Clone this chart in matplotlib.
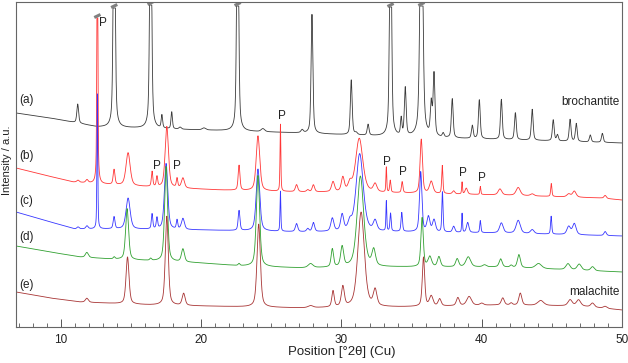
import numpy as np
import matplotlib
matplotlib.use("Agg")
import matplotlib.pyplot as plt
from matplotlib.ticker import MultipleLocator

plt.rcParams['font.family'] = ['Liberation Sans', 'DejaVu Sans']

# ---------------- data ----------------
# 2-theta axis range
theta_min, theta_max = 6.8, 50.0

# (a) brochantite
a_base_x = [6.8, 9.23, 11.15, 12.58, 19.92, 27.06, 34.19, 42.75, 50.0]
a_base_y = [214, 209, 204, 200, 197, 194, 190, 187, 184]
a_pos = [11.2, 13.8, 16.4, 17.2, 17.9, 18.5, 20.2, 22.6, 24.4, 27.2, 27.9, 30.7, 31.05, 31.9,
         33.5, 34.26, 34.55, 35.7, 36.4, 36.6, 37.25, 37.9, 39.33, 39.83, 41.4, 42.4, 43.6,
         45.1, 45.4, 46.3, 46.74, 47.74, 48.6]
a_hgt = [19, 300, 300, 13, 17, 2, 2, 300, 3, 3, 119, 55, 2, 11,
         300, 17, 48, 300, 32, 62, 4, 39, 13, 39, 40, 27, 31,
         21, 6, 22, 18, 7, 9]
a_fw = [0.15, 0.15, 0.15, 0.12, 0.12, 0.2, 0.3, 0.15, 0.3, 0.2, 0.15, 0.15, 0.2, 0.15,
        0.15, 0.12, 0.15, 0.22, 0.15, 0.15, 0.15, 0.15, 0.15, 0.15, 0.15, 0.15, 0.15,
        0.15, 0.15, 0.15, 0.15, 0.15, 0.15]
a_clip_pos = [13.8, 16.4, 22.6, 33.5, 35.7]
a_clip_top = [319, 322, 321, 320, 321]

# (b) red
b_base_x = [6.8, 8.51, 10.87, 14.93, 21.35, 27.06, 34.19, 41.32, 48.46, 50.0]
b_base_y = [159, 153, 145, 141, 137, 135, 134, 132, 129, 127]
b_pos = [11.22, 11.86, 12.6, 13.79, 14.79, 16.5, 16.85, 17.55, 18.28, 18.7, 22.7, 24.05, 25.65,
         26.8, 27.6, 28.0, 29.4, 30.1, 30.6, 31.27, 32.4, 33.2, 33.48, 34.33, 35.69, 36.4,
         37.19, 38.0, 38.6, 38.9, 39.9, 41.3, 42.6, 43.6, 44.96, 46.2, 46.6, 48.8]
b_hgt = [2, 3, 400, 15, 33, 15, 10, 61, 9, 10, 25, 55, 67,
         7, 2, 7, 10, 14, 8, 54, 8, 25, 12, 11, 54, 12,
         28, 3, 12, 6, 8, 6, 8, 2, 13, 3, 6, 3]
b_fw = [0.2, 0.2, 0.07, 0.15, 0.35, 0.12, 0.12, 0.28, 0.12, 0.25, 0.15, 0.3, 0.07,
        0.2, 0.2, 0.2, 0.25, 0.25, 0.3, 0.6, 0.3, 0.07, 0.1, 0.12, 0.2, 0.3,
        0.1, 0.2, 0.07, 0.2, 0.08, 0.3, 0.35, 0.3, 0.1, 0.3, 0.3, 0.2]
b_clip_pos = [12.6]
b_clip_top = [309]

# (c) blue
c_base_x = [6.8, 8.51, 11.01, 13.5, 19.92, 27.06, 34.19, 41.32, 50.0]
c_base_y = [115, 108, 98, 98, 97, 95, 95, 94, 91]
c_pos = [11.22, 11.86, 12.6, 13.79, 14.79, 16.5, 16.85, 17.5, 18.28, 18.7, 22.7, 24.05, 25.65,
         26.8, 27.6, 28.0, 29.35, 30.05, 30.6, 31.3, 32.4, 33.2, 33.5, 34.3, 35.65, 36.2,
         36.6, 37.2, 38.0, 38.6, 39.0, 39.9, 41.4, 42.6, 43.6, 44.95, 46.2, 46.6, 48.8]
c_hgt = [2, 3, 135, 12, 31, 15, 11, 66, 9, 11, 20, 62, 40,
         8, 3, 9, 13, 16, 8, 78, 10, 30, 18, 19, 60, 15,
         12, 40, 6, 19, 10, 12, 10, 13, 4, 18, 8, 11, 4]
c_fw = [0.2, 0.2, 0.07, 0.15, 0.35, 0.12, 0.12, 0.28, 0.12, 0.25, 0.15, 0.3, 0.07,
        0.2, 0.2, 0.2, 0.25, 0.25, 0.3, 0.6, 0.3, 0.07, 0.1, 0.12, 0.2, 0.25,
        0.25, 0.1, 0.2, 0.07, 0.2, 0.1, 0.3, 0.35, 0.3, 0.1, 0.3, 0.3, 0.2]

# (d) green
d_base_x = [6.8, 9.23, 11.37, 13.5, 19.92, 22.78, 27.06, 34.19, 41.32, 50.0]
d_base_y = [81, 75, 70, 68, 64, 61, 59, 60, 60, 55]
d_pos = [11.85, 13.8, 14.72, 16.4, 17.5, 18.7, 22.7, 24.05, 27.8, 29.35, 30.05, 31.35, 32.3,
         35.75, 36.3, 36.95, 38.25, 39.04, 40.2, 41.35, 42.1, 42.65, 44.05, 46.15, 46.95, 47.9]
d_hgt = [5, 2, 51, 2, 95, 13, 2, 91, 4, 18, 20, 91, 16,
         49, 10, 10, 8, 10, 2, 8, 2, 13, 5, 6, 6, 4]
d_fw = [0.25, 0.15, 0.25, 0.15, 0.25, 0.25, 0.15, 0.28, 0.4, 0.2, 0.25, 0.55, 0.3,
        0.2, 0.3, 0.25, 0.25, 0.4, 0.3, 0.25, 0.2, 0.25, 0.5, 0.35, 0.35, 0.3]

# (e) malachite
e_base_x = [6.8, 9.23, 11.37, 16.36, 23.49, 27.06, 34.19, 41.32, 47.03, 50.0]
e_base_y = [35, 29, 25, 22, 20, 19, 20, 22, 21, 17]
e_pos = [11.85, 14.75, 17.55, 18.75, 24.1, 27.8, 29.4, 30.1, 31.4, 32.4, 35.85, 36.4, 37.0,
         38.3, 39.1, 40.0, 41.5, 42.1, 42.75, 44.2, 46.3, 46.9, 47.9, 48.8]
e_hgt = [4, 47, 89, 12, 83, 2, 16, 20, 95, 16, 49, 10, 7,
         8, 9, 2, 7, 2, 12, 5, 6, 6, 4, 2]
e_fw = [0.25, 0.25, 0.25, 0.25, 0.28, 0.4, 0.2, 0.25, 0.55, 0.3, 0.2, 0.3, 0.25,
        0.25, 0.4, 0.3, 0.25, 0.2, 0.25, 0.5, 0.35, 0.35, 0.3, 0.3]

series_labels = ['(a)', '(b)', '(c)', '(d)', '(e)']
series_label_y = [227, 171, 126, 90, 42]
series_colors = ['#3a3a3a', '#ff3636', '#3636ff', '#30a030', '#a83434']

p_label_x = [13.0, 25.77, 16.86, 18.3, 33.26, 34.4, 38.68, 40.04]
p_label_y = [304, 211, 161, 161, 165, 155, 154, 149]

# ---------------- helpers ----------------
x = np.linspace(theta_min, theta_max, 4000)


def pattern(bx, by, pos, hgt, fw, clip_pos=(), clip_top=()):
    y = np.interp(x, bx, by).astype(float)
    for p, h, w in zip(pos, hgt, fw):
        d = (x - p) / (w / 2.0)
        lor = 1.0 / (1.0 + d ** 2)
        gau = np.exp(-np.log(2) * d ** 2)
        y += h * (0.5 * lor + 0.5 * gau)
    for p, t in zip(clip_pos, clip_top):
        m = np.abs(x - p) < 0.6
        y[m] = np.minimum(y[m], t)
    return y


curves = [
    pattern(a_base_x, a_base_y, a_pos, a_hgt, a_fw, a_clip_pos, a_clip_top),
    pattern(b_base_x, b_base_y, b_pos, b_hgt, b_fw, b_clip_pos, b_clip_top),
    pattern(c_base_x, c_base_y, c_pos, c_hgt, c_fw),
    pattern(d_base_x, d_base_y, d_pos, d_hgt, d_fw),
    pattern(e_base_x, e_base_y, e_pos, e_hgt, e_fw),
]

# ---------------- figure ----------------
W, H = 628, 363
fig = plt.figure(figsize=(W / 100, H / 100), dpi=100)
ax = fig.add_axes([16 / W, 1 - 327 / H, 606 / W, 325 / H])

for yv, col in zip(curves, series_colors):
    ax.plot(x, yv, color=col, lw=0.6)

# break markers on clipped peaks
for p, t in list(zip(a_clip_pos, a_clip_top)) + list(zip(b_clip_pos, b_clip_top)):
    ax.plot([p - 0.22, p + 0.22], [t + 0.5, t + 3.5], color='#808080', lw=2.2,
            solid_capstyle='butt')

for lab, ly in zip(series_labels, series_label_y):
    ax.text(7.05, ly, lab, fontsize=8.5, ha='left', va='center', color='#222222')

ax.text(49.8, 225, 'brochantite', fontsize=8.5, ha='right', va='center', color='#222222')
ax.text(49.8, 35, 'malachite', fontsize=8.5, ha='right', va='center', color='#222222')

for px_, py_ in zip(p_label_x, p_label_y):
    ax.text(px_, py_, 'P', fontsize=8.5, ha='center', va='center', color='#222222')

ax.set_xlim(theta_min, theta_max)
ax.set_ylim(0, 325)
ax.set_yticks([])
ax.xaxis.set_major_locator(MultipleLocator(10))
ax.xaxis.set_minor_locator(MultipleLocator(1))
ax.tick_params(axis='x', which='major', direction='in', length=6, width=0.7,
               colors='#555555', labelcolor='#222222', labelsize=8.5, pad=5)
ax.tick_params(axis='x', which='minor', direction='in', length=3, width=0.6, colors='#555555')
ax.tick_params(axis='x', top=False)
for s in ax.spines.values():
    s.set_color('#666666')
    s.set_linewidth(0.8)

fig.text(342 / W, 1 - 352 / H, 'Position [°2θ] (Cu)', fontsize=9.5, ha='center', va='center',
         color='#222222')
fig.text(7 / W, 1 - 160 / H, 'Intensity / a.u.', fontsize=8, rotation=90, ha='center',
         va='center', color='#222222')

fig.savefig('out.png', dpi=100)
